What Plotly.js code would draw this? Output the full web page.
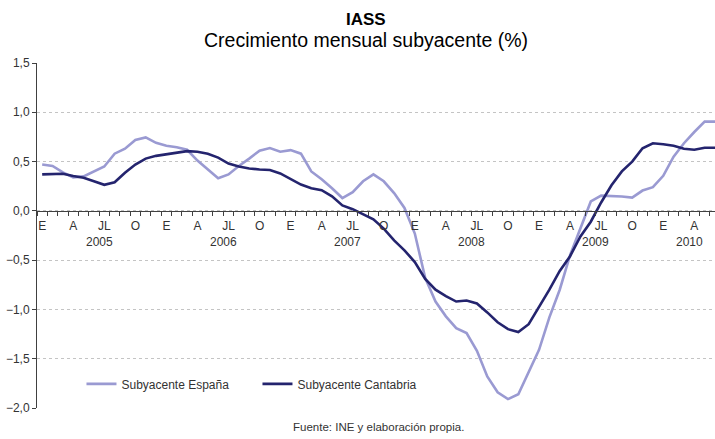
<!DOCTYPE html>
<html><head><meta charset="utf-8">
<script src="https://cdn.plot.ly/plotly-3.0.1.min.js"></script>
<style>html,body{margin:0;padding:0;background:#fff}</style>
</head><body><div id="chart" style="width:715px;height:439px"></div>
<script>
// Monthly data, January 2005 - June 2010
const years = [2005, 2006, 2007, 2008, 2009, 2010];
const quarterLabels = ['E', 'A', 'JL', 'O'];
const seriesNames = ['Subyacente España', 'Subyacente Cantabria'];
const espana = [
  0.47, 0.455, 0.39, 0.34, 0.35, 0.40, 0.45, 0.58, 0.63, 0.72, 0.745, 0.69,
  0.66, 0.645, 0.62, 0.51, 0.42, 0.33, 0.37, 0.455, 0.53, 0.61, 0.637, 0.60,
  0.616, 0.58, 0.40, 0.32, 0.23, 0.13, 0.19, 0.30, 0.37, 0.30, 0.18, 0.03,
  -0.23, -0.68, -0.92, -1.07, -1.19, -1.24, -1.42, -1.68, -1.84, -1.91, -1.86, -1.64,
  -1.41, -1.08, -0.80, -0.45, -0.18, 0.095, 0.155, 0.152, 0.145, 0.135, 0.206, 0.24,
  0.355, 0.55, 0.686, 0.80, 0.905, 0.905
];
const cantabria = [
  0.37, 0.37, 0.377, 0.353, 0.336, 0.30, 0.264, 0.29, 0.387, 0.47, 0.53, 0.558,
  0.575, 0.585, 0.606, 0.60, 0.58, 0.54, 0.48, 0.45, 0.43, 0.42, 0.414, 0.38,
  0.32, 0.267, 0.23, 0.21, 0.147, 0.055, 0.017, -0.03, -0.085, -0.18, -0.30, -0.40,
  -0.52, -0.69, -0.80, -0.865, -0.92, -0.91, -0.94, -1.03, -1.13, -1.20, -1.23, -1.15,
  -0.98, -0.80, -0.61, -0.46, -0.26, -0.11, 0.085, 0.26, 0.40, 0.50, 0.635, 0.686,
  0.676, 0.66, 0.63, 0.62, 0.64, 0.64
];

const idx = espana.map((_, i) => i);
const tickvals = [], ticktext = [];
idx.forEach(i => { if (i % 3 === 0) { tickvals.push(i); ticktext.push(quarterLabels[(i % 12) / 3]); } });

const FONT = '"Liberation Sans", Arial, sans-serif';
const TXT = '#333333';

const traces = [
  {x: idx, y: espana, name: seriesNames[0], type: 'scatter', mode: 'lines',
   line: {color: '#9a9ad2', width: 2.6}},
  {x: idx, y: cantabria, name: seriesNames[1], type: 'scatter', mode: 'lines',
   line: {color: '#24246e', width: 2.6}}
];

const annotations = [];
years.forEach((yr, k) => {
  const first = k * 12, last = Math.min(k * 12 + 11, idx.length - 1);
  annotations.push({x: (first + last) / 2, y: -0.32, xref: 'x', yref: 'y', text: String(yr),
    showarrow: false, xanchor: 'center', yanchor: 'middle', font: {family: FONT, size: 12, color: TXT}});
});
annotations.push({x: 0.485, y: 1.1275, xref: 'paper', yref: 'paper', text: '<b>IASS</b>',
  showarrow: false, xanchor: 'center', yanchor: 'middle', font: {family: FONT, size: 17, color: '#000'}});
annotations.push({x: 0.485, y: 1.0670, xref: 'paper', yref: 'paper', text: 'Crecimiento mensual subyacente (%)',
  showarrow: false, xanchor: 'center', yanchor: 'middle', font: {family: FONT, size: 19.5, color: '#000'}});
annotations.push({x: 0.503, y: -0.054, xref: 'paper', yref: 'paper', text: 'Fuente: INE y elaboración propia.',
  showarrow: false, xanchor: 'center', yanchor: 'middle', font: {family: FONT, size: 11.5, color: TXT}});

const layout = {
  width: 715, height: 439,
  margin: {l: 37, r: 0, t: 63, b: 31, pad: 0},
  paper_bgcolor: '#ffffff', plot_bgcolor: '#ffffff',
  separators: ',.',
  font: {family: FONT, size: 12, color: TXT},
  showlegend: true,
  legend: {orientation: 'h', x: 0.0656, y: 0.07, xanchor: 'left', yanchor: 'middle',
    font: {family: FONT, size: 12, color: TXT}, bgcolor: 'rgba(0,0,0,0)',
    entrywidth: 131, entrywidthmode: 'pixels'},
  xaxis: {type: 'linear', range: [-0.5, 65.0], anchor: 'free', position: 0.571,
    showgrid: false, zeroline: false, showline: true, linecolor: '#404040', linewidth: 1,
    tickmode: 'array', tickvals: tickvals, ticktext: ticktext,
    ticks: 'outside', ticklen: 4, tickcolor: 'rgba(0,0,0,0)',
    tickfont: {family: FONT, size: 12, color: TXT},
    minor: {tickmode: 'linear', tick0: 0.5, dtick: 1, ticks: 'outside', ticklen: 4,
      tickcolor: '#404040', tickwidth: 1, showgrid: false}},
  yaxis: {range: [-2, 1.5], tickmode: 'linear', tick0: 0, dtick: 0.5, tickformat: '.1f',
    showgrid: true, gridcolor: '#c4c4c4', griddash: 'dot', gridwidth: 1, zeroline: false,
    showline: true, linecolor: '#404040', linewidth: 1, ticks: 'outside', ticklen: 4,
    tickcolor: '#404040', tickfont: {family: FONT, size: 12, color: TXT}},
  annotations: annotations
};

Plotly.newPlot('chart', traces, layout, {displayModeBar: false, staticPlot: true});
</script></body></html>
